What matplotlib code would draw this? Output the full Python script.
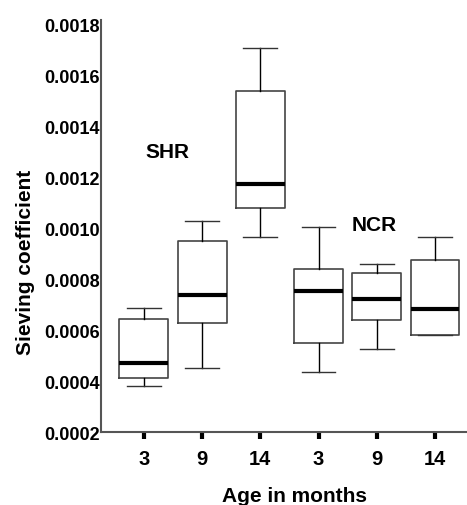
import matplotlib
matplotlib.use("Agg")
import matplotlib.pyplot as plt

plt.rcParams['font.family'] = ['Liberation Sans', 'DejaVu Sans']
plt.rcParams['font.weight'] = 'bold'

# box plot summaries
ages = ["3", "9", "14", "3", "9", "14"]
whisker_low = [0.000380, 0.000452, 0.000965, 0.000436, 0.000525, 0.000580]
box_low = [0.000414, 0.000628, 0.001080, 0.000550, 0.000640, 0.000583]
medians = [0.000471, 0.000739, 0.001172, 0.000755, 0.000722, 0.000685]
box_high = [0.000645, 0.000948, 0.001537, 0.000840, 0.000823, 0.000875]
whisker_high = [0.000687, 0.001030, 0.001707, 0.001003, 0.000861, 0.000965]
y_ticks = [0.0002, 0.0004, 0.0006, 0.0008, 0.0010, 0.0012, 0.0014, 0.0016, 0.0018]

stats = []
for i in range(len(ages)):
    stats.append({"whislo": whisker_low[i], "q1": box_low[i], "med": medians[i],
                  "q3": box_high[i], "whishi": whisker_high[i], "fliers": []})

fig = plt.figure(figsize=(4.67, 5.06), dpi=100)
ax = fig.add_axes([0.216, 0.144, 0.784, 0.814])

positions = list(range(1, len(ages) + 1))
ax.bxp(stats, positions=positions, widths=0.84, capwidths=0.58, showfliers=False,
       boxprops=dict(color="#444444", linewidth=1.2),
       medianprops=dict(color="black", linewidth=3),
       whiskerprops=dict(color="black", linewidth=1),
       capprops=dict(color="#333333", linewidth=1))

ax.set_xlim(0.26, 6.55)
ax.set_ylim(0.000216, 0.001816)
ax.set_yticks(y_ticks)
ax.set_yticklabels(["%.4f" % v for v in y_ticks])
ax.set_xticks(positions)
ax.set_xticklabels(ages)

ax.spines["top"].set_visible(False)
ax.spines["right"].set_visible(False)
ax.spines["left"].set_color("#555555")
ax.spines["bottom"].set_color("#555555")
ax.spines["left"].set_linewidth(1.5)
ax.spines["bottom"].set_linewidth(1.5)

ax.tick_params(axis="y", length=0, pad=1, labelsize=13)
ax.tick_params(axis="x", length=5, width=3, pad=7, labelsize=14.5, color="black")
for lab in ax.get_xticklabels() + ax.get_yticklabels():
    lab.set_fontweight("bold")

ax.text(1.4, 0.00130, "SHR", fontsize=15, fontweight="bold", ha="center", va="center")
ax.text(4.95, 0.001016, "NCR", fontsize=15, fontweight="bold", ha="center", va="center")

ax.set_xlabel("Age in months", fontsize=15, fontweight="bold")
ax.set_ylabel("Sieving coefficient", fontsize=15, fontweight="bold")
ax.xaxis.set_label_coords(0.53, -0.13)
ax.yaxis.set_label_coords(-0.18, 0.415)

fig.savefig("out.png", dpi=100)
